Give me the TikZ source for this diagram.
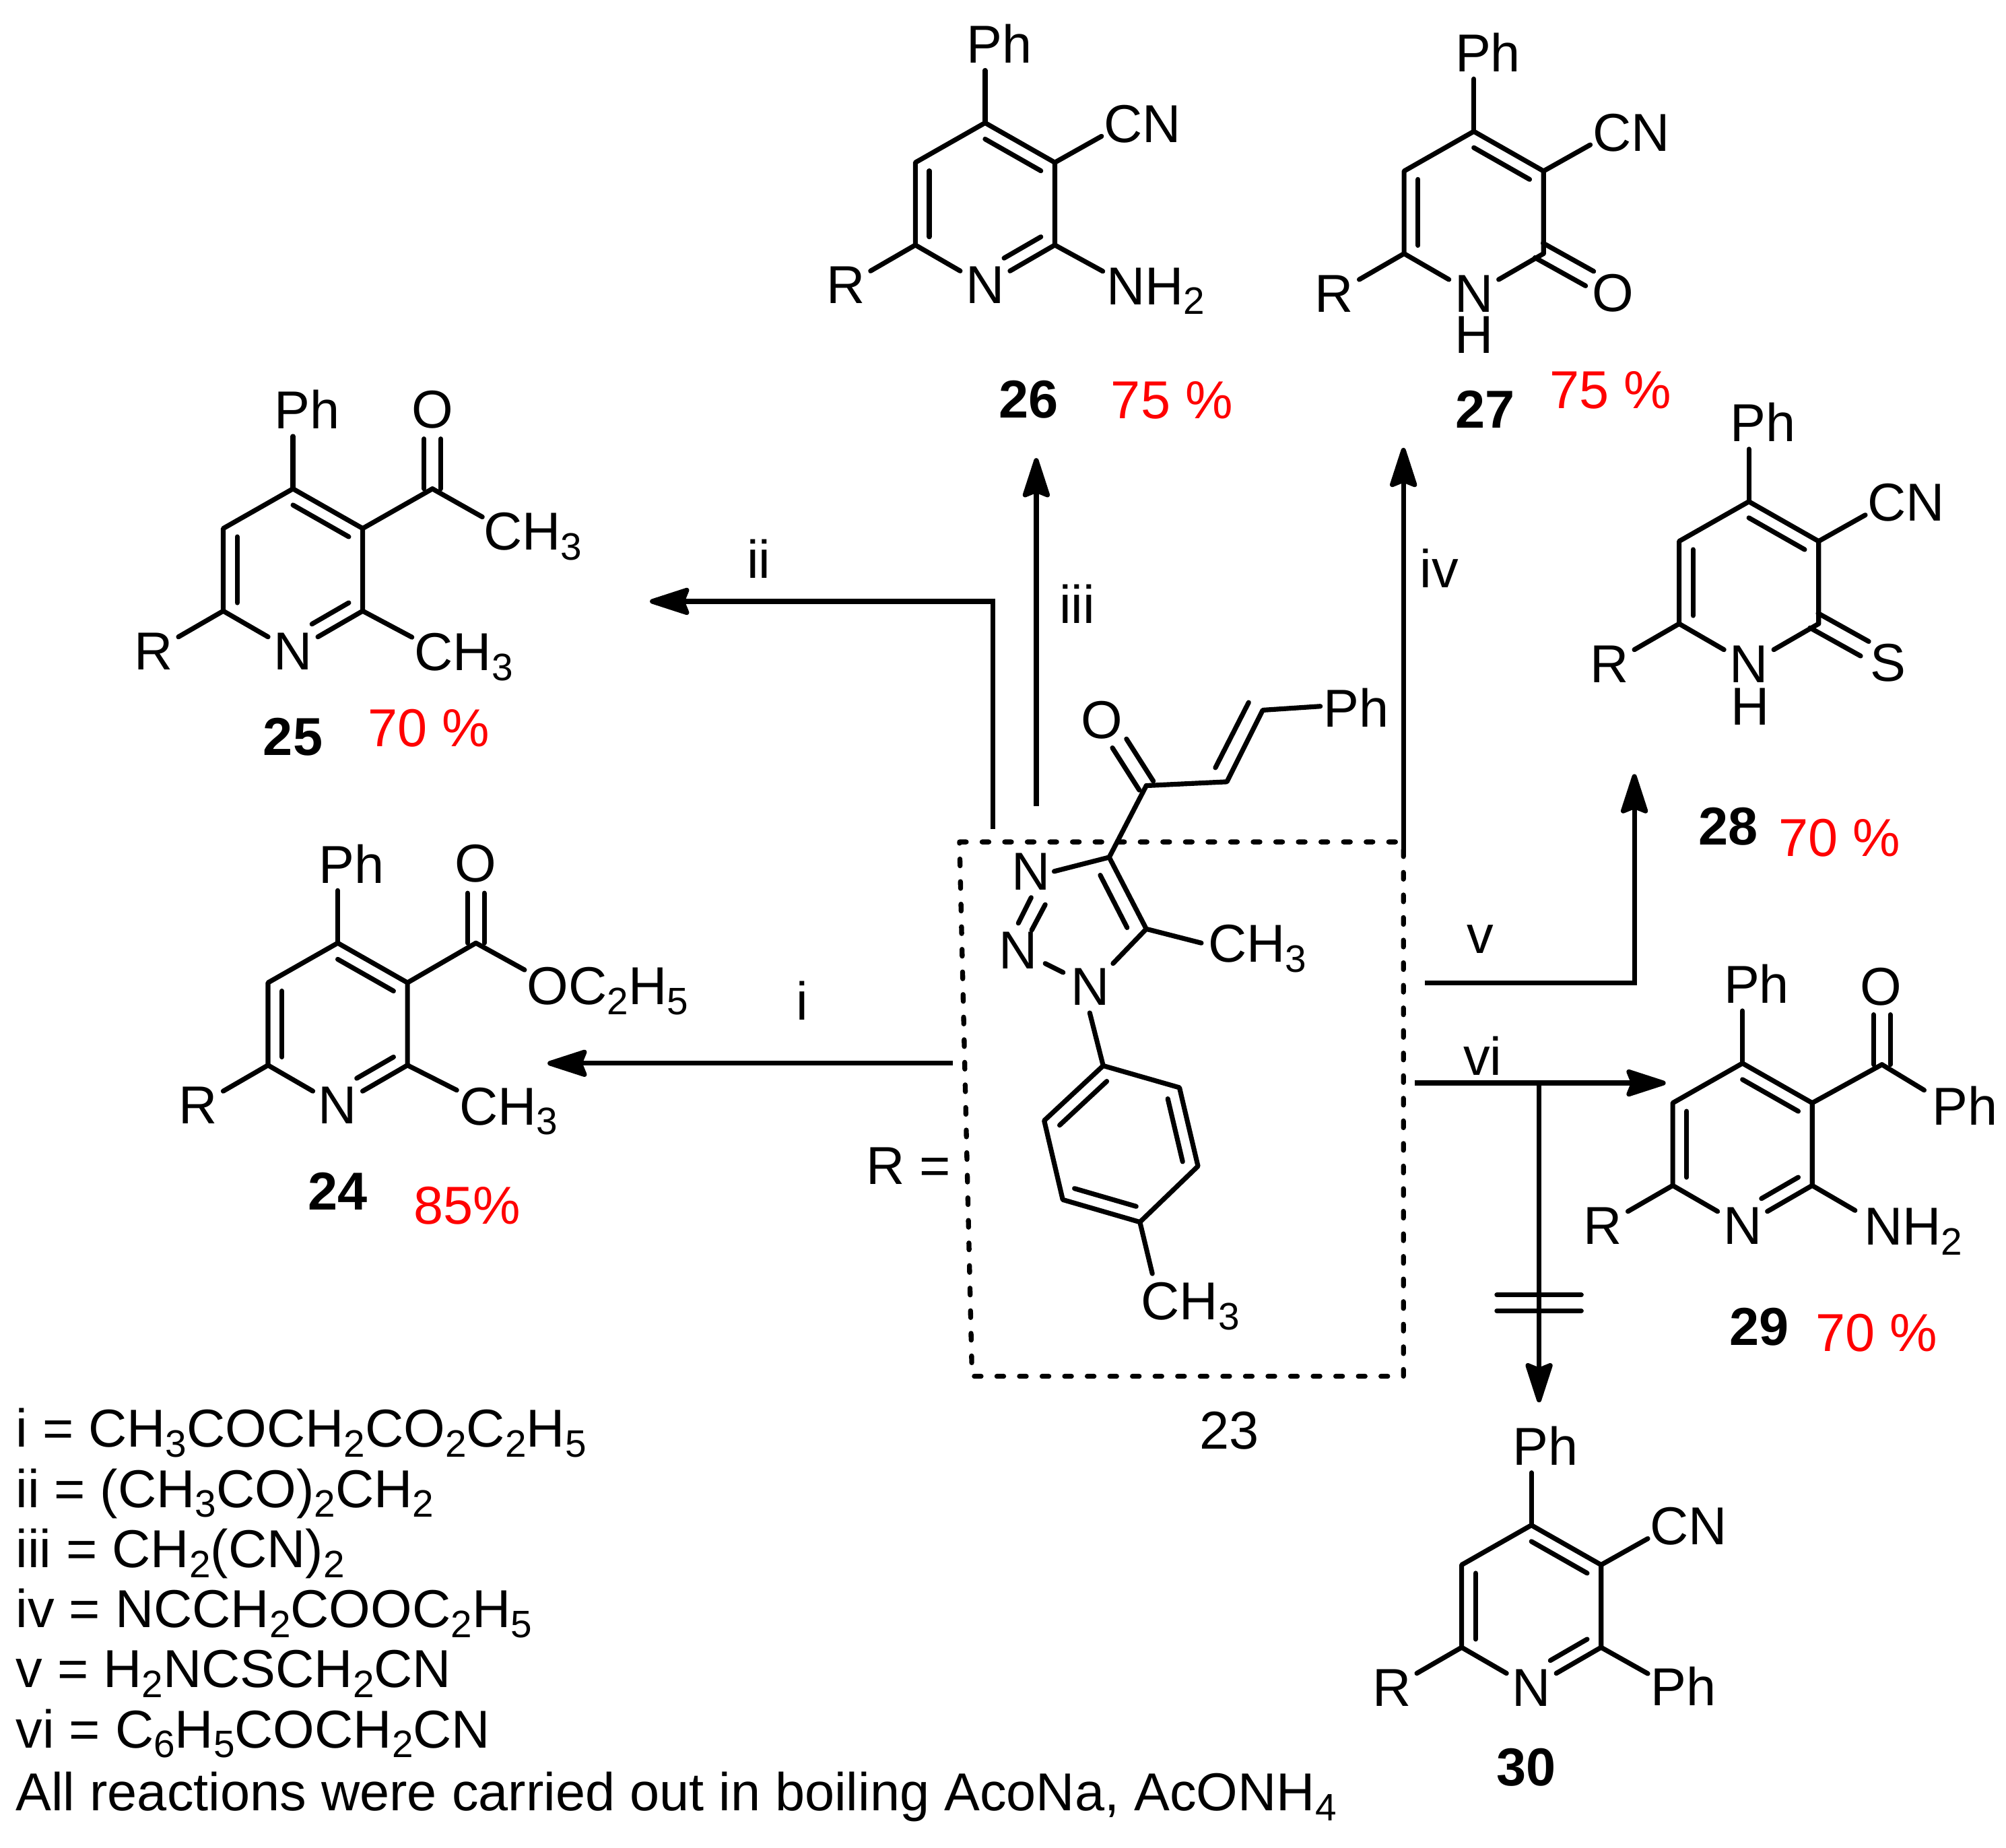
\documentclass[tikz,border=0pt]{standalone}
\usepackage{fontspec}
\setmainfont{Liberation Sans}
\usetikzlibrary{calc,arrows.meta}
\newcommand\sbs[1]{\raisebox{-4.4pt}{\fontsize{17pt}{18pt}\selectfont #1}}
\tikzset{
 bond/.style={line width=2.15pt,line cap=round,line join=round},
 rxn/.style={line width=2.15pt,line join=miter},
 arr/.style={rxn,-{Stealth[length=20.5pt,width=13pt,inset=2.5pt,round]}},
 atom/.style={font=\fontsize{23.75pt}{28pt}\selectfont,inner sep=2.5pt,outer sep=0pt},
 grp/.style={atom,anchor=base west,inner sep=0pt},
 lab/.style={font=\fontsize{23.75pt}{28pt}\selectfont,inner sep=0pt},
 num/.style={font=\fontsize{23.75pt}{28pt}\selectfont\bfseries,inner sep=0pt},
 yld/.style={font=\fontsize{23.75pt}{28pt}\selectfont,inner sep=0pt,text=red},
 leg/.style={font=\fontsize{23.75pt}{28pt}\selectfont,inner sep=0pt,anchor=base west},
 boxd/.style={line width=2.2pt,line cap=round,dash pattern=on 3pt off 7.05pt},
}
% inner line of a double bond: a, b, ring centre
\newcommand\inn[3]{\draw[bond] ($(#1)!.2!(#3)$) -- ($(#2)!.2!(#3)$);}
% inner line of the C=N bond, kept clear of the N label
\newcommand\inb[3]{\draw[bond] ($(#1)!.2!(#3)$) -- ($($(#2)!.2!(#3)$)!.34!($(#1)!.2!(#3)$)$);}
% two-line bond: a, b, half separation
\newcommand\dbl[3]{\draw[bond] ($(#1)!#3!90:(#2)$) -- ($(#2)!#3!-90:(#1)$);\draw[bond] ($(#1)!#3!-90:(#2)$) -- ($(#2)!#3!90:(#1)$);}
% ring with C4 at (x,y)
\newcommand\pyr[3]{%
 \coordinate (#14) at (#2,#3);
 \coordinate (#13) at ($(#14)+(54.5,31)$);
 \coordinate (#12) at ($(#14)+(54.5,95.5)$);
 \coordinate (#1n) at ($(#14)+(0,127)$);
 \coordinate (#16) at ($(#14)+(-54.5,95.5)$);
 \coordinate (#15) at ($(#14)+(-54.5,31)$);
 \coordinate (#1c) at ($(#14)+(0,63.5)$);
 \coordinate (#1t) at ($(#14)+(0,-41)$);
 \node[atom] (#1N) at (#1n) {N};
 \node[atom] (#1R) at ($(#14)+(-109,127)$) {R};
 \node[atom] (#1P) at ($(#14)+(11,-62)$) {Ph};
 \draw[bond] (#1R) -- (#16) -- (#15) -- (#14) -- (#13) -- (#12);
 \draw[bond] (#16) -- (#1N) -- (#12);
 \draw[bond] (#14) -- (#1t);
 \inn{#15}{#16}{#1c}
 \inn{#14}{#13}{#1c}
}
\newcommand\cn[1]{%
 \coordinate (#1e) at ($(#14)+(91,10.5)$);
 \draw[bond] (#13) -- (#1e);
 \node[atom] (#1CN) at ($(#14)+(123,1)$) {CN};
}
\begin{document}
\begin{tikzpicture}[x=0.02cm,y=-0.02cm]
\useasboundingbox (0,0) rectangle (1568,1444);

% 26
\pyr{a}{770}{96}
\cn{a}
\inb{a2}{an}{ac}
\coordinate (ax) at ($(a4)+(92,116)$);
\draw[bond] (a2) -- (ax);
\node[grp] (aH) at (865,238) {NH\sbs{2}};
\node[num] (la) at (804,312) {26};
\node[yld] (ya) at (916,313) {75 \%};

% 27
\pyr{b}{1152}{102.7}
\cn{b}
\node[atom] (bH) at (1152,261.6) {H};
\node[atom] (bO) at (1260.7,229) {O};
\coordinate (bs) at ($(b4)+(51,93)$);
\coordinate (be) at ($(b4)+(90.5,115)$);
\dbl{bs}{be}{3.7pt}
\node[num] (lb) at (1161,320) {27};
\node[yld] (yb) at (1259,305) {75 \%};

% 25
\pyr{c}{229}{382}
\inb{c2}{cn}{cc}
\coordinate (cC) at (338,382);
\node[atom] (cO) at (338,320) {O};
\coordinate (cO1) at (338,343);
\draw[bond] (c3) -- (cC);
\dbl{cC}{cO1}{3.7pt}
\coordinate (cx) at (377,404);
\draw[bond] (cC) -- (cx);
\node[grp] (cM) at (378,430) {CH\sbs{3}};
\coordinate (cy) at (322,498);
\draw[bond] (c2) -- (cy);
\node[grp] (cM2) at (324,524) {CH\sbs{3}};
\node[num] (lc) at (229,576) {25};
\node[yld] (yc) at (335,569) {70 \%};

% 24
\pyr{d}{264}{737}
\inb{d2}{dn}{dc}
\coordinate (dC) at (372,737);
\node[atom] (dO) at (372,675) {O};
\coordinate (dO1) at (372,698);
\draw[bond] (d3) -- (dC);
\dbl{dC}{dO1}{3.7pt}
\coordinate (dx) at (410,758);
\draw[bond] (dC) -- (dx);
\node[grp] (dE) at (412,785) {OC\sbs{2}H\sbs{5}};
\coordinate (dy) at (357,852);
\draw[bond] (d2) -- (dy);
\node[grp] (dM) at (359,879) {CH\sbs{3}};
\node[num] (ld) at (264,931) {24};
\node[yld] (yd) at (365,942) {85\%};

% 28
\pyr{e}{1367}{392}
\cn{e}
\node[atom] (eH) at (1368,552) {H};
\node[atom] (eS) at (1476,518) {S};
\coordinate (es) at ($(e4)+(51,93)$);
\coordinate (ee) at ($(e4)+(90.5,115)$);
\dbl{es}{ee}{3.7pt}
\node[num] (le) at (1351,646) {28};
\node[yld] (ye) at (1438,655) {70 \%};

% 29
\pyr{f}{1362}{831}
\inb{f2}{fn}{fc}
\coordinate (fC) at (1471,832);
\node[atom] (fO) at (1470,771) {O};
\coordinate (fO1) at (1471,793);
\draw[bond] (f3) -- (fC);
\dbl{fC}{fO1}{3.7pt}
\coordinate (fx) at (1504,852);
\draw[bond] (fC) -- (fx);
\node[atom] (fP2) at (1536,864) {Ph};
\coordinate (fy) at (1450,946);
\draw[bond] (f2) -- (fy);
\node[grp] (fH) at (1457,973) {NH\sbs{2}};
\node[num] (lf) at (1375,1037) {29};
\node[yld] (yf) at (1467,1042) {70 \%};

% 30
\pyr{g}{1197}{1192}
\cn{g}
\inb{g2}{gn}{gc}
\coordinate (gy) at (1288,1308);
\draw[bond] (g2) -- (gy);
\node[atom] (gP2) at (1316,1318) {Ph};
\node[num] (lg) at (1193,1381) {30};

% centre 23
\coordinate (tC) at (896,614);
\node[atom] (tO) at (861.5,563) {O};
\coordinate (tO1) at (875,581);
\dbl{tC}{tO1}{3.7pt}
\coordinate (tA) at (959,611);
\coordinate (tB) at (987,555);
\coordinate (tBe) at (1032,552);
\node[atom] (tP) at (1060,553) {Ph};
\coordinate (tI1) at (950,600);
\coordinate (tI2) at (976,549);
\draw[bond] (tC) -- (tA) -- (tB) -- (tBe);
\draw[bond] (tI1) -- (tI2);
\coordinate (t4) at (867,670);
\coordinate (t5) at (896,726);
\draw[bond] (tC) -- (t4) -- (t5);
\coordinate (tI3) at (860,684);
\coordinate (tI4) at (881,725);
\draw[bond] (tI3) -- (tI4);
\node[atom] (n3) at (806,681) {N};
\node[atom] (n2) at (796,743) {N};
\node[atom] (n1) at (852,771) {N};
\coordinate (tN3) at (824,681);
\draw[bond] (t4) -- (tN3);
\coordinate (nn1) at (806,701.5);
\coordinate (nn2) at (796,721.5);
\coordinate (nn3) at (817,707);
\coordinate (nn4) at (806.4,727);
\draw[bond] (nn1) -- (nn2);
\draw[bond] (nn3) -- (nn4);
\coordinate (nn5) at (817,753);
\coordinate (nn6) at (831,760);
\draw[bond] (nn5) -- (nn6);
\coordinate (nn7) at (870,753);
\draw[bond] (nn7) -- (t5);
\coordinate (tMe) at (939,737);
\draw[bond] (t5) -- (tMe);
\node[grp] (tM) at (944.5,752) {CH\sbs{3}};
\coordinate (nn8) at (851.8,791.6);
\coordinate (r1) at (862.3,832.9);
\coordinate (r2) at (921.9,850);
\coordinate (r3) at (936.4,911.4);
\coordinate (r4) at (891,955.1);
\coordinate (r5) at (830.7,937.6);
\coordinate (r6) at (816.2,875.8);
\coordinate (rc) at (876.4,893.8);
\draw[bond] (nn8) -- (r1);
\draw[bond] (r1) -- (r2) -- (r3) -- (r4) -- (r5) -- (r6) -- cycle;
\inn{r2}{r3}{rc}
\inn{r4}{r5}{rc}
\inn{r6}{r1}{rc}
\coordinate (rM) at (900.7,995.4);
\draw[bond] (r4) -- (rM);
\node[grp] (rT) at (892,1031.3) {CH\sbs{3}};

% dashed box
\coordinate (q1) at (750,658);
\coordinate (q2) at (1097,658);
\coordinate (q3) at (1097,1075.6);
\coordinate (q4) at (759.8,1075.6);
\draw[boxd] (q1) -- (q2) -- (q3) -- (q4) -- cycle;

% arrows
\coordinate (i1) at (745,831);
\coordinate (i2) at (428,831);
\draw[arr] (i1) -- (i2);
\coordinate (ii1) at (776,648);
\coordinate (ii2) at (776,470);
\coordinate (ii3) at (508,470);
\draw[arr] (ii1) -- (ii2) -- (ii3);
\coordinate (iii1) at (810,630);
\coordinate (iii2) at (810,358);
\draw[arr] (iii1) -- (iii2);
\coordinate (iv1) at (1097,665);
\coordinate (iv2) at (1097,350);
\draw[arr] (iv1) -- (iv2);
\coordinate (v1) at (1114,768);
\coordinate (v2) at (1277.5,768);
\coordinate (v3) at (1277.5,605);
\draw[arr] (v1) -- (v2) -- (v3);
\coordinate (vi1) at (1106,846.4);
\coordinate (vi2) at (1302,846.4);
\coordinate (vi3) at (1203,846.4);
\coordinate (vi4) at (1203,1096);
\draw[arr] (vi1) -- (vi2);
\draw[arr] (vi3) -- (vi4);
\coordinate (x1) at (1170,1012);
\coordinate (x2) at (1236,1012);
\coordinate (x3) at (1170,1024.5);
\coordinate (x4) at (1236,1024.5);
\draw[bond] (x1) -- (x2);
\draw[bond] (x3) -- (x4);

% labels
\node[lab] (Li) at (627,782) {i};
\node[lab] (Lii) at (593,437) {ii};
\node[lab] (Liii) at (842,472) {iii};
\node[lab] (Liv) at (1125,444) {iv};
\node[lab] (Lv) at (1157,734) {v};
\node[lab] (Lvi) at (1159,825) {vi};
\node[lab] (LR) at (710,911) {R =};
\node[lab] (L23) at (961,1118) {23};

% legend
\node[leg] (k1) at (12,1131) {i = CH\sbs{3}COCH\sbs{2}CO\sbs{2}C\sbs{2}H\sbs{5}};
\node[leg] (k2) at (12,1178) {ii = (CH\sbs{3}CO)\sbs{2}CH\sbs{2}};
\node[leg] (k3) at (12,1225) {iii = CH\sbs{2}(CN)\sbs{2}};
\node[leg] (k4) at (12,1272) {iv = NCCH\sbs{2}COOC\sbs{2}H\sbs{5}};
\node[leg] (k5) at (12,1319) {v = H\sbs{2}NCSCH\sbs{2}CN};
\node[leg] (k6) at (12,1366) {vi = C\sbs{6}H\sbs{5}COCH\sbs{2}CN};
\node[leg] (k7) at (12,1415) {All reactions were carried out in boiling AcoNa, AcONH\sbs{4}};
\end{tikzpicture}
\end{document}
